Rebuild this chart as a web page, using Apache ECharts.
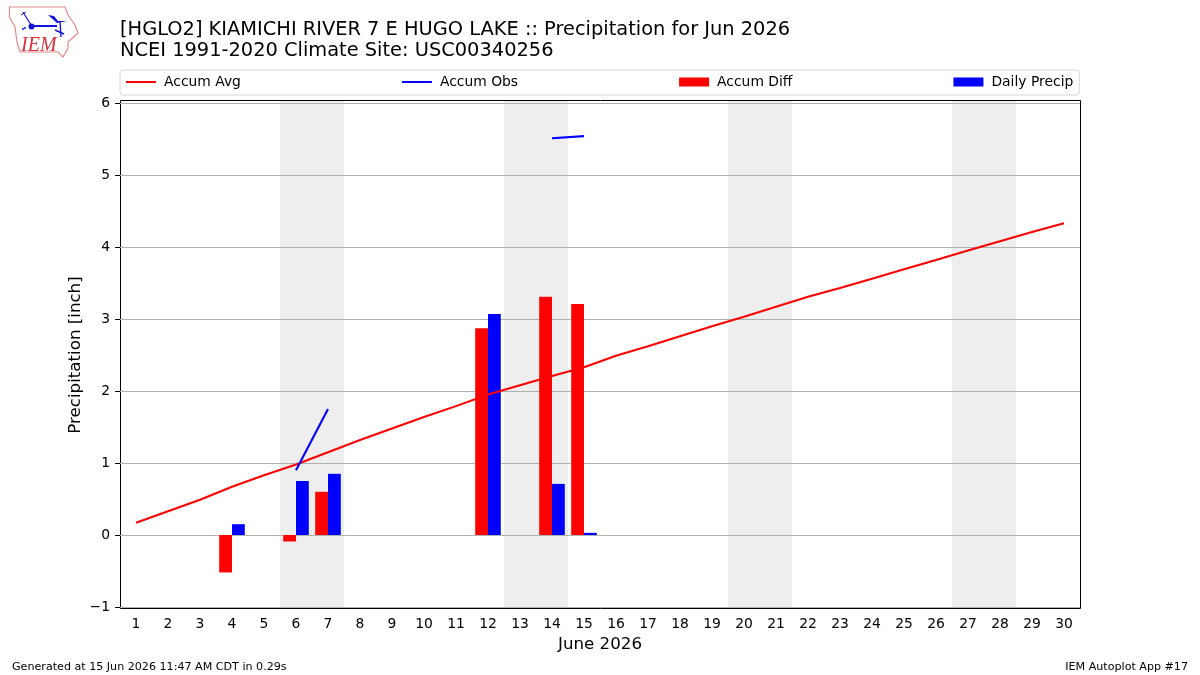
<!DOCTYPE html>
<html>
<head>
<meta charset="utf-8">
<style>html,body{margin:0;padding:0;background:#fff}#chart{width:1200px;height:675px}</style>
<script src="https://cdn.jsdelivr.net/npm/echarts@6/dist/echarts.min.js"></script>
</head>
<body>
<div id="chart"></div>
<script>
// June 2026 precipitation, inches
const days = ['1','2','3','4','5','6','7','8','9','10','11','12','13','14','15','16','17','18','19','20','21','22','23','24','25','26','27','28','29','30'];
const accumAvg = [0.17,0.33,0.49,0.67,0.83,0.98,1.15,1.32,1.48,1.64,1.79,1.95,2.08,2.21,2.33,2.49,2.62,2.76,2.90,3.03,3.17,3.31,3.43,3.56,3.69,3.82,3.95,4.08,4.21,4.33];
const accumObs = [null,null,null,0.15,null,0.90,1.75,null,null,null,null,4.82,null,5.51,5.54,null,null,null,null,null,null,null,null,null,null,null,null,null,null,null];
const accumDiff = [null,null,null,-0.52,null,-0.09,0.60,null,null,null,null,2.87,null,3.31,3.21,null,null,null,null,null,null,null,null,null,null,null,null,null,null,null];
const dailyPrecip = [null,null,null,0.15,null,0.75,0.85,null,null,null,null,3.07,null,0.71,0.03,null,null,null,null,null,null,null,null,null,null,null,null,null,null,null];
// Weekend spans as day-number edges
const weekends = [[5.5,7.5],[12.5,14.5],[19.5,21.5],[26.5,28.5]];
const yTicks = {min:-1, max:6, step:1};

const FONT = 'DejaVu Sans';
const TICK_SIZE = 13.89;
const LABEL_SIZE = 16.67;
const BLUE = '#1414d8';
// Thin horizontal stroke inside a taller box, so line keys sit centred in the legend row
const LINE_KEY = 'path://M0 0L30 0L30 0ZM0 3.6H30V5.4H0ZM0 9L30 9L30 9Z';
const chart = echarts.init(document.getElementById('chart'), null, {renderer:'canvas'});

// Iowa-shaped logo in the upper left corner, plus the footer notes
const decorations = [
  {type:'polygon', shape:{points:[[9.5,7],[65,7],[68,15],[75,25],[78,33],[68,42],[68,48],[63,57],[58,52],[20,52],[17,42],[15,27],[9.5,17]]},
   style:{fill:'#fff', stroke:'#e48c8c', lineWidth:1.2}},
  {type:'polyline', shape:{points:[[31,26],[57,26]]}, style:{fill:null, stroke:BLUE, lineWidth:2}},
  {type:'circle', shape:{cx:31.5, cy:26.5, r:3}, style:{fill:BLUE}},
  {type:'polyline', shape:{points:[[23,12],[31,25]]}, style:{fill:null, stroke:BLUE, lineWidth:1.2}},
  {type:'polyline', shape:{points:[[21,15],[26,12]]}, style:{fill:null, stroke:BLUE, lineWidth:1}},
  {type:'polygon', shape:{points:[[48,15],[54,16],[58,21],[67,21],[57,23]]}, style:{fill:BLUE}},
  {type:'polyline', shape:{points:[[60,21],[61,37]]}, style:{fill:null, stroke:BLUE, lineWidth:1.4}},
  {type:'polyline', shape:{points:[[55,30],[64,34]]}, style:{fill:null, stroke:BLUE, lineWidth:1.4}},
  {type:'circle', shape:{cx:25, cy:28, r:1}, style:{fill:BLUE}},
  {type:'circle', shape:{cx:23, cy:29, r:1}, style:{fill:BLUE}},
  {type:'text', x:21, y:36, style:{text:'IEM', fill:'#d8323c', font:'italic 20px "Liberation Serif"'}},
  {type:'text', x:12, y:662, style:{text:'Generated at 15 Jun 2026 11:47 AM CDT in 0.29s', fill:'#000', font:'11.11px '+FONT}},
  {type:'text', x:1188, y:662, style:{text:'IEM Autoplot App #17', fill:'#000', font:'11.11px '+FONT, align:'right'}}
];

chart.setOption({
  animation:false,
  backgroundColor:'#fff',
  textStyle:{fontFamily:FONT},
  title:{
    left:120, top:19, padding:0,
    text:'[HGLO2] KIAMICHI RIVER 7 E HUGO LAKE :: Precipitation for Jun 2026\nNCEI 1991-2020 Climate Site: USC00340256',
    textStyle:{fontFamily:FONT, fontSize:19.4, fontWeight:'normal', color:'#000', lineHeight:21.5}
  },
  legend:{
    left:120, top:70, padding:[5,6,6,6],
    itemGap:161, itemWidth:30, itemHeight:9,
    borderColor:'#d6d6d6', borderWidth:1, borderRadius:3,
    textStyle:{fontFamily:FONT, fontSize:TICK_SIZE, color:'#000', padding:[0,0,0,3]},
    data:[
      {name:'Accum Avg', icon:LINE_KEY},
      {name:'Accum Obs', icon:LINE_KEY},
      {name:'Accum Diff', icon:'rect'},
      {name:'Daily Precip', icon:'rect'}
    ]
  },
  grid:[
    {left:120, top:103, width:960, height:504},
    {left:120.5, top:100.5, width:960, height:508, show:true, borderColor:'#000', borderWidth:1, backgroundColor:'transparent'}
  ],
  xAxis:[
    {type:'category', gridIndex:0, data:days, offset:1,
     name:'June 2026', nameLocation:'middle', nameGap:28, nameMoveOverlap:false,
     nameTextStyle:{fontFamily:FONT, fontSize:LABEL_SIZE, color:'#000'},
     axisLine:{show:false},
     axisTick:{alignWithLabel:true, length:5, lineStyle:{color:'#000'}},
     axisLabel:{interval:0, color:'#000', fontFamily:FONT, fontSize:TICK_SIZE, margin:9},
     splitLine:{show:false}},
    // The half-pixel frame offset is taken back out so weekend bands keep sharp edges
    {type:'value', gridIndex:1, min:0.515625, max:30.515625, show:false}
  ],
  yAxis:[
    {type:'value', gridIndex:0, min:yTicks.min, max:yTicks.max, interval:yTicks.step,
     name:'Precipitation [inch]', nameLocation:'middle', nameGap:36, nameRotate:90, nameMoveOverlap:false,
     nameTextStyle:{fontFamily:FONT, fontSize:LABEL_SIZE, color:'#000'},
     axisLine:{show:false},
     axisTick:{show:true, length:5, lineStyle:{color:'#000'}},
     axisLabel:{color:'#000', fontFamily:FONT, fontSize:TICK_SIZE, margin:10, padding:[6,0,0,0],
                formatter:v => v < 0 ? '\u2212' + Math.abs(v) : String(v)},
     splitLine:{show:true, lineStyle:{color:'#b0b0b0', width:1}}},
    {type:'value', gridIndex:1, min:0, max:1, show:false}
  ],
  series:[
    {name:'Weekends', type:'line', xAxisIndex:1, yAxisIndex:1, data:[], silent:true, z:-2,
     markArea:{silent:true, z:-2, itemStyle:{color:'#eeeeee'},
       data:weekends.map(w => [{xAxis:w[0], yAxis:0},{xAxis:w[1], yAxis:1}])}},
    {name:'Accum Diff', type:'bar', data:accumDiff, barWidth:'40%', barGap:0, itemStyle:{color:'#ff0000'}, z:3},
    {name:'Daily Precip', type:'bar', data:dailyPrecip, barWidth:'40%', barGap:0, itemStyle:{color:'#0000ff'}, z:3},
    {name:'Accum Avg', type:'line', data:accumAvg, showSymbol:false, symbol:'none', lineStyle:{color:'#ff0000', width:2.08}, itemStyle:{color:'#ff0000'}, z:4},
    {name:'Accum Obs', type:'line', data:accumObs, showSymbol:false, symbol:'none', connectNulls:false, lineStyle:{color:'#0000ff', width:2.08}, itemStyle:{color:'#0000ff'}, z:4}
  ],
  graphic:decorations
});
</script>
</body>
</html>
